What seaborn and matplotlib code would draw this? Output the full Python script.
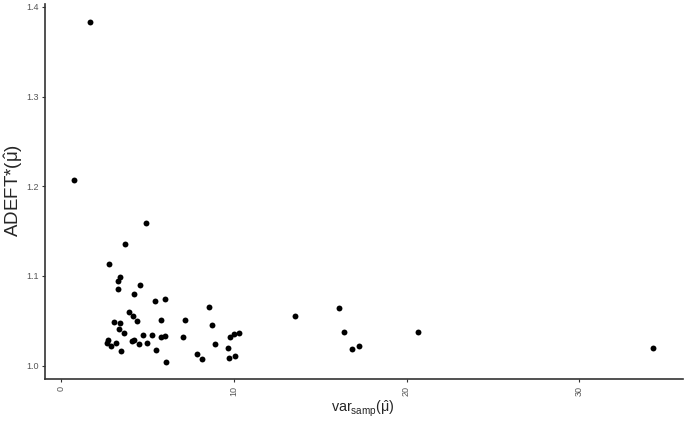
import pandas as pd
import matplotlib
matplotlib.use('Agg')
import matplotlib.pyplot as plt
import seaborn as sns

# values
var_samp = [1.68, 0.72, 4.90, 3.69, 2.76, 3.42, 3.28, 4.56, 3.27, 4.19,
            5.41, 5.98, 8.57, 3.93, 4.15, 3.07, 3.38, 4.39, 5.77, 7.15,
            3.32, 8.73, 3.64, 4.75, 5.27, 6.03, 5.77, 7.03, 10.31, 10.01,
            9.79, 2.72, 4.08, 4.24, 4.50, 4.96, 3.17, 2.65, 2.86, 8.93,
            9.64, 3.43, 5.51, 7.86, 8.16, 9.73, 10.04, 6.07, 13.51, 16.06,
            16.37, 16.83, 17.22, 20.65, 34.30]
adeft = [1.3826, 1.2066, 1.1593, 1.1359, 1.1128, 1.0988, 1.0949, 1.0899, 1.0860, 1.0804,
         1.0724, 1.0743, 1.0654, 1.0598, 1.0557, 1.0490, 1.0479, 1.0501, 1.0509, 1.0507,
         1.0411, 1.0450, 1.0362, 1.0342, 1.0342, 1.0334, 1.0314, 1.0323, 1.0362, 1.0351,
         1.0323, 1.0286, 1.0275, 1.0281, 1.0245, 1.0255, 1.0256, 1.0250, 1.0216, 1.0245,
         1.0195, 1.0169, 1.0177, 1.0127, 1.0069, 1.0088, 1.0108, 1.0039, 1.0557, 1.0646,
         1.0372, 1.0183, 1.0223, 1.0372, 1.0194]
x_ticks = [0, 10, 20, 30]
y_ticks = [1.0, 1.1, 1.2, 1.3, 1.4]

df = pd.DataFrame({'var_samp': var_samp, 'adeft': adeft})

sns.set_style('ticks')
plt.rcParams['font.family'] = ['Liberation Sans', 'DejaVu Sans']
plt.rcParams['mathtext.fontset'] = 'custom'
plt.rcParams['mathtext.rm'] = 'Liberation Sans'
plt.rcParams['mathtext.it'] = 'Liberation Sans'

fig = plt.figure(figsize=(6.85, 4.23), dpi=100)
ax = fig.add_axes([0.0657, 0.1033, 0.931, 0.887])

sns.scatterplot(data=df, x='var_samp', y='adeft', ax=ax, color='black',
                s=18, edgecolor='black', linewidth=0)

ax.set_xlim(-0.944, 36.0)
ax.set_ylim(0.9848, 1.403)
ax.set_xticks(x_ticks)
ax.set_yticks(y_ticks)
ax.set_xticklabels([str(t) for t in x_ticks], rotation=90)
ax.set_yticklabels([f'{t:.1f}' for t in y_ticks])
ax.tick_params(axis='both', labelsize=6.5, labelcolor='#555555', color='#333333',
               length=2.5, width=0.8, pad=2)

sns.despine(ax=ax)
for side in ['left', 'bottom']:
    ax.spines[side].set_color('#333333')
    ax.spines[side].set_linewidth(1.2)

ax.set_xlabel(r'var$_{\mathrm{samp}}$($\hat{\mu}$)', fontsize=10.3)
ax.set_ylabel(r'ADEFT*($\hat{\mu}$)', fontsize=13.5)
ax.xaxis.set_label_coords(0.499, -0.052)
ax.yaxis.set_label_coords(-0.031, 0.502)

fig.savefig('out.png', dpi=100)
